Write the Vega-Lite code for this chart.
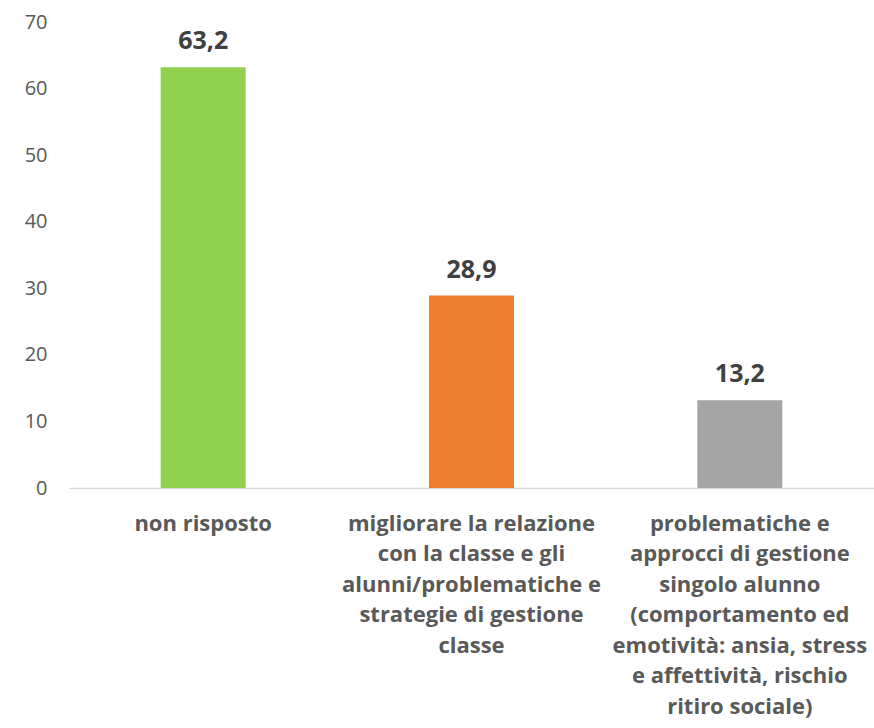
{
  "$schema": "https://vega.github.io/schema/vega-lite/v6.json",
  "width": 805,
  "height": 466,
  "autosize": {"type": "none"},
  "padding": {"left": 69, "top": 22, "right": 0, "bottom": 240},
  "config": {
    "view": {"stroke": null},
    "font": "Open Sans",
    "locale": {"number": {"decimal": ",", "thousands": ".", "grouping": [3], "currency": ["€", ""]}}
  },
  "data": {
    "values": [
      {"categoria": "non risposto", "valore": 63.2},
      {"categoria": "migliorare la relazione\ncon la classe e gli\nalunni/problematiche e\nstrategie di gestione\nclasse", "valore": 28.9},
      {"categoria": "problematiche e\napprocci di gestione\nsingolo alunno\n(comportamento ed\nemotività: ansia, stress\ne affettività, rischio\nritiro sociale)", "valore": 13.2}
    ]
  },
  "encoding": {
    "x": {
      "field": "categoria",
      "type": "nominal",
      "sort": null,
      "scale": {"paddingInner": 0, "paddingOuter": 0},
      "axis": {
        "title": null,
        "labelAngle": 0,
        "labelExpr": "split(datum.label, '\\n')",
        "labelLineHeight": 30.5,
        "labelBaseline": "alphabetic",
        "labelPadding": 42,
        "labelFontSize": 22,
        "labelFontWeight": "bold",
        "labelColor": "#595959",
        "labelLimit": 0,
        "labelOverlap": false,
        "ticks": false,
        "tickSize": 0,
        "domainColor": "#D9D9D9",
        "domainWidth": 1.5
      }
    },
    "y": {
      "field": "valore",
      "type": "quantitative",
      "scale": {"domain": [0, 70], "nice": false},
      "axis": {
        "title": null,
        "values": [0, 10, 20, 30, 40, 50, 60, 70],
        "domain": false,
        "ticks": false,
        "tickSize": 0,
        "grid": false,
        "labelPadding": 22,
        "labelFontSize": 20,
        "labelColor": "#595959"
      }
    }
  },
  "layer": [
    {
      "mark": {"type": "bar", "size": 85},
      "encoding": {
        "color": {
          "field": "categoria",
          "type": "nominal",
          "sort": null,
          "scale": {"range": ["#92D050", "#ED7D31", "#A5A5A5"]},
          "legend": null
        }
      }
    },
    {
      "mark": {"type": "text", "baseline": "alphabetic", "dy": -18, "fontSize": 25, "fontWeight": "bold", "color": "#404040"},
      "encoding": {
        "text": {"field": "valore", "type": "quantitative", "format": ".1f"}
      }
    }
  ]
}
